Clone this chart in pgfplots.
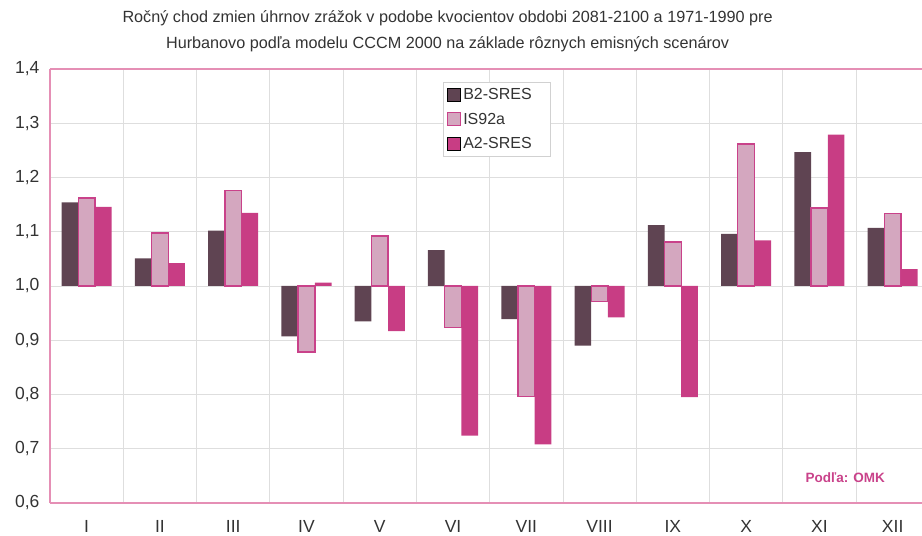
\documentclass[border=0pt]{standalone}
\usepackage{pgfplots}
\pgfplotsset{compat=1.18}
\usepackage{pgfplotstable}
\usepackage{fontspec}
\setmainfont{Liberation Sans}
\definecolor{cB}{HTML}{5F4452}
\definecolor{cIf}{HTML}{D4A7BF}
\definecolor{cIe}{HTML}{C9428A}
\definecolor{cA}{HTML}{C83D84}
\definecolor{cAx}{HTML}{E58FB5}
\definecolor{cTxt}{HTML}{333333}
\pgfplotstableread{
x b2 is a2
0 1.154 1.162 1.146
1 1.051 1.098 1.042
2 1.102 1.176 1.135
3 0.907 0.878 1.006
4 0.935 1.092 0.917
5 1.066 0.924 0.724
6 0.939 0.796 0.708
7 0.890 0.971 0.942
8 1.112 1.081 0.795
9 1.096 1.262 1.084
10 1.247 1.144 1.279
11 1.107 1.134 1.031
}\data
\pgfplotsset{sq legend/.style={legend image code/.code={\draw[##1] (0pt,-6.5pt) rectangle (13.5pt,6.5pt);}}}
\begin{document}
\begin{tikzpicture}[x=1pt,y=1pt]
\path[use as bounding box] (-50,-33) rectangle (872,503);
\begin{axis}[at={(0,0)},anchor=south west,
  scale only axis, width=872pt, height=434pt,
  xmin=-0.5, xmax=11.4, ymin=-0.4, ymax=0.4,
  ytick={-0.4,-0.3,-0.2,-0.1,0,0.1,0.2,0.3,0.4},
  yticklabels={0{,}6,0{,}7,0{,}8,0{,}9,1{,}0,1{,}1,1{,}2,1{,}3,1{,}4},
  xtick={0,1,2,3,4,5,6,7,8,9,10,11},
  xticklabels={I,II,III,IV,V,VI,VII,VIII,IX,X,XI,XII},
  minor xtick={0.5,1.5,2.5,3.5,4.5,5.5,6.5,7.5,8.5,9.5,10.5},
  xminorgrids, ymajorgrids,
  major grid style={draw=black!13, line width=0.7pt},
  minor grid style={draw=black!13, line width=0.7pt},
  major tick length=0pt, minor tick length=0pt,
  axis line style={draw=none},
  tick label style={font=\fontsize{17.5}{20}\selectfont, text=cTxt},
  yticklabel style={xshift=-7pt},
  xticklabel style={yshift=-14pt},
  ybar=0pt, bar width=16.7pt,
  legend style={at={(0.451,0.971)}, anchor=north west, draw=black!18, line width=0.6pt,
    font=\fontsize{16}{18}\selectfont, text=cTxt, inner xsep=3pt, inner ysep=4.5pt,
    row sep=8.5pt, nodes={inner sep=1.8pt}},
  legend cell align=left,
  clip=false,
]
\addplot[fill=cB, draw=none, sq legend] table[x=x, y expr=\thisrow{b2}-1] {\data};
\addplot[fill=cIf, draw=cIe, line width=1.4pt, sq legend] table[x=x, y expr=\thisrow{is}-1] {\data};
\addplot[fill=cA, draw=none, sq legend] table[x=x, y expr=\thisrow{a2}-1] {\data};
\legend{\makebox[82pt][l]{B2-SRES},IS92a,A2-SRES}
\draw[cAx, line width=1.2pt] (rel axis cs:0,0) -- (rel axis cs:0,1);
\draw[cAx, line width=1.2pt] (rel axis cs:0,0) -- (rel axis cs:1.01,0);
\draw[cAx, line width=1.2pt] (rel axis cs:0,1) -- (rel axis cs:1.01,1);
\node[font=\bfseries\fontsize{13.5}{15}\selectfont, text=cIe] at (axis description cs:0.912,0.058) {Podľa: OMK};
\node[font=\fontsize{16.2}{18}\selectfont, text=cTxt, anchor=base] at (axis description cs:0.456,1.106) {Ročný chod zmien úhrnov zrážok v podobe kvocientov obdobi 2081-2100 a 1971-1990 pre};
\node[font=\fontsize{16.2}{18}\selectfont, text=cTxt, anchor=base] at (axis description cs:0.456,1.048) {Hurbanovo podľa modelu CCCM 2000 na základe rôznych emisných scenárov};
\end{axis}
\end{tikzpicture}
\end{document}
